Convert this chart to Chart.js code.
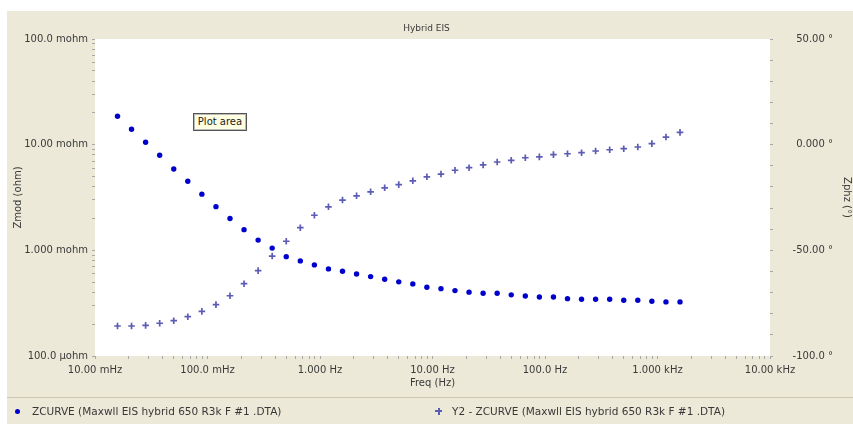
<!DOCTYPE html>
<html><head><meta charset="utf-8">
<script src="https://cdn.jsdelivr.net/npm/chart.js@4.4.1/dist/chart.umd.min.js"></script>
<style>
html,body{margin:0;padding:0;background:#fff;width:853px;height:424px;overflow:hidden;position:relative;}
#bg{position:absolute;left:7px;top:11px;width:846px;height:413px;background:#ECE9D8;}
#sep{position:absolute;left:7px;top:397px;width:846px;height:0;border-top:1px solid #cbc7b2;}
#wrap{position:absolute;left:0;top:0;width:853px;height:424px;}
.leg{position:absolute;top:405px;height:12px;line-height:12px;font:10.5px "DejaVu Sans";color:#383838;white-space:nowrap;}
#dot{position:absolute;left:15px;top:409px;width:5px;height:5px;border-radius:50%;background:#0000cc;}
#plh{position:absolute;left:435px;top:410px;width:7px;height:2px;background:#5c5cb4;}
#plv{position:absolute;left:437.5px;top:407.5px;width:2px;height:7px;background:#5c5cb4;}
#tip{position:absolute;left:193px;top:113px;width:52px;height:16px;background:#ffffe1;border:1px solid #555;box-shadow:inset 0 0 0 1px #bbb;font:10px "DejaVu Sans";color:#222;line-height:16px;text-align:center;white-space:nowrap;}
</style></head>
<body>
<div id="bg"></div>
<div id="sep"></div>
<div id="wrap"><canvas id="c" width="853" height="424"></canvas></div>
<div id="dot"></div><div class="leg" id="leg1" style="left:32px"></div>
<div id="plh"></div><div id="plv"></div><div class="leg" id="leg2" style="left:452px"></div>
<div id="tip">Plot area</div>
<script>
const chartTitle = 'Hybrid EIS';
const seriesNames = ['ZCURVE (Maxwll EIS hybrid 650 R3k F #1 .DTA)', 'Y2 - ZCURVE (Maxwll EIS hybrid 650 R3k F #1 .DTA)'];
const xAxisTitle = 'Freq (Hz)';
const yAxisTitle = 'Zmod (ohm)';
const y2AxisTitle = 'Zphz (°)';

const freqHz = [0.01585,0.02113,0.02818,0.03758,0.05012,0.06683,0.08913,0.1189,0.1585,0.2113,0.2818,0.3758,0.5012,0.6683,0.8913,1.189,1.585,2.113,2.818,3.758,5.012,6.683,8.913,11.89,15.85,21.13,28.18,37.58,50.12,66.83,89.13,118.9,158.5,211.3,281.8,375.8,501.2,668.3,891.3,1189,1585];
const zmodOhm = [0.01857,0.01399,0.01054,0.00794,0.00589,0.00451,0.00340,0.00259,0.00200,0.00157,0.00125,0.00105,0.000871,0.000794,0.000728,0.000667,0.000634,0.000598,0.000564,0.000533,0.000503,0.000481,0.000448,0.000434,0.000416,0.000402,0.000393,0.000393,0.000379,0.000370,0.000362,0.000362,0.000349,0.000344,0.000344,0.000344,0.000337,0.000337,0.000330,0.000325,0.000325];
const zphzDeg = [-85.8,-85.8,-85.5,-84.5,-83.3,-81.4,-78.9,-75.7,-71.5,-65.8,-59.6,-52.7,-45.7,-39.3,-33.4,-29.4,-26.2,-24.2,-22.3,-20.4,-18.9,-17.1,-15.2,-13.9,-12.1,-10.9,-9.6,-8.2,-7.4,-6.2,-5.8,-4.7,-4.3,-3.8,-3.0,-2.4,-1.9,-1.1,0.5,3.6,5.8];

const xTickValues = [0.01, 0.1, 1, 10, 100, 1000, 10000];
const xTickLabels = ['10.00 mHz', '100.0 mHz', '1.000 Hz', '10.00 Hz', '100.0 Hz', '1.000 kHz', '10.00 kHz'];
const yTickValues = [0.0001, 0.001, 0.01, 0.1];
const yTickLabels = ['100.0 µohm', '1.000 mohm', '10.00 mohm', '100.0 mohm'];
const y2TickValues = [-100, -50, 0, 50];
const y2TickLabels = ['-100.0 °', '-50.00 °', '0.000 °', '50.00 °'];

document.getElementById('leg1').textContent = seriesNames[0];
document.getElementById('leg2').textContent = seriesNames[1];

const FONT = 'DejaVu Sans';
const TXT = '#3a3a3a';
const TICKC = '#a8a8a8';

function logTicks(majors) {
  const out = [];
  for (let i = 0; i < majors.length; i++) {
    out.push({value: majors[i]});
    if (i < majors.length - 1) {
      for (let k = 2; k <= 9; k++) out.push({value: +(majors[i] * k).toPrecision(6)});
    }
  }
  return out;
}
function labelFor(values, labels, v) {
  const i = values.findIndex(t => Math.abs(t - v) <= Math.abs(t) * 1e-6 + 1e-12);
  return i >= 0 ? labels[i] : '';
}

const bgPlugin = {
  id: 'plotBg',
  beforeDraw(chart) {
    const {ctx, chartArea: a} = chart;
    ctx.save();
    ctx.fillStyle = '#ffffff';
    ctx.fillRect(a.left, a.top, a.right - a.left, a.bottom - a.top);
    ctx.restore();
  }
};

new Chart(document.getElementById('c'), {
  type: 'scatter',
  data: {
    datasets: [
      {
        label: seriesNames[0],
        data: freqHz.map((f, i) => ({x: f, y: zmodOhm[i]})),
        yAxisID: 'y',
        pointStyle: 'circle',
        pointRadius: 2.7,
        backgroundColor: '#0000cc',
        borderColor: '#0000cc',
        borderWidth: 0
      },
      {
        label: seriesNames[1],
        data: freqHz.map((f, i) => ({x: f, y: zphzDeg[i]})),
        yAxisID: 'y2',
        pointStyle: 'cross',
        pointRadius: 3.3,
        backgroundColor: '#5c5cb4',
        borderColor: '#5c5cb4',
        borderWidth: 1.7
      }
    ]
  },
  options: {
    responsive: false,
    animation: false,
    devicePixelRatio: 1,
    layout: {padding: {top: 11, bottom: 27, left: 20, right: 20}},
    plugins: {
      legend: {display: false},
      tooltip: {enabled: false},
      title: {
        display: true, text: chartTitle, color: TXT,
        font: {family: FONT, size: 9, weight: 'normal', lineHeight: 1.2},
        padding: {top: 12, bottom: 5.2}
      }
    },
    scales: {
      x: {
        type: 'logarithmic', position: 'bottom', min: 0.01, max: 10000,
        afterBuildTicks: s => { s.ticks = logTicks(xTickValues); },
        afterFit: s => { s.height = 41; },
        ticks: {autoSkip: false, maxRotation: 0, minRotation: 0, padding: 5, color: TXT,
          font: {family: FONT, size: 10},
          callback: v => labelFor(xTickValues, xTickLabels, v)},
        grid: {drawOnChartArea: false, drawTicks: true, tickLength: 3, color: TICKC},
        border: {display: false},
        title: {display: true, text: xAxisTitle, color: TXT, font: {family: FONT, size: 10, lineHeight: 1.2}, padding: {top: 0, bottom: 8}}
      },
      y: {
        type: 'logarithmic', position: 'left', min: 0.0001, max: 0.1,
        afterBuildTicks: s => { s.ticks = logTicks(yTickValues); },
        afterFit: s => { s.width = 75; },
        ticks: {autoSkip: false, padding: 4, color: TXT, font: {family: FONT, size: 10},
          callback: v => labelFor(yTickValues, yTickLabels, v)},
        grid: {drawOnChartArea: false, drawTicks: true, tickLength: 3, color: TICKC},
        border: {display: false},
        title: {display: true, text: yAxisTitle, color: TXT, font: {family: FONT, size: 10, lineHeight: 1.2}, padding: {top: -8, bottom: 0}}
      },
      y2: {
        type: 'linear', position: 'right', min: -100, max: 50,
        afterFit: s => { s.width = 63; },
        ticks: {autoSkip: false, stepSize: 10, padding: 4, crossAlign: 'far', color: TXT, font: {family: FONT, size: 10},
          callback: v => labelFor(y2TickValues, y2TickLabels, v)},
        grid: {drawOnChartArea: false, drawTicks: true, tickLength: 3, color: TICKC},
        border: {display: false},
        title: {display: true, text: y2AxisTitle, color: TXT, font: {family: FONT, size: 10, lineHeight: 1.2}, padding: {top: -20, bottom: 0}}
      }
    }
  },
  plugins: [bgPlugin]
});
</script>
</body></html>
